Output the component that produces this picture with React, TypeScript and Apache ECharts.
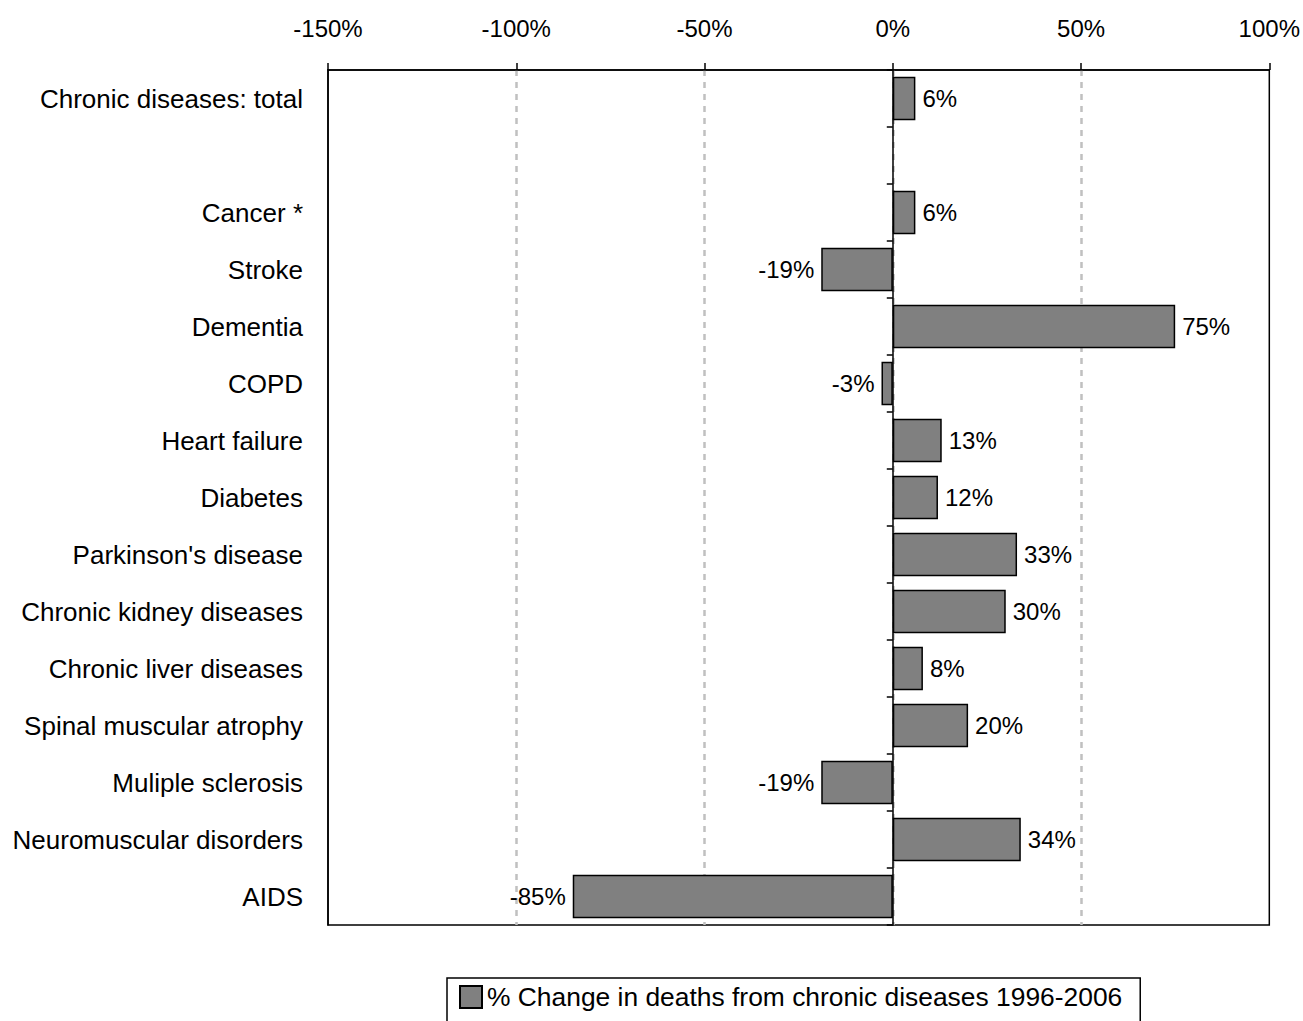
import React, { useEffect, useRef } from "react";
import * as echarts from "echarts";

const categories: string[] = [
  "Chronic diseases: total",
  "",
  "Cancer *",
  "Stroke",
  "Dementia",
  "COPD",
  "Heart failure",
  "Diabetes",
  "Parkinson's disease",
  "Chronic kidney diseases",
  "Chronic liver diseases",
  "Spinal muscular atrophy",
  "Muliple sclerosis",
  "Neuromuscular disorders",
  "AIDS",
];

const changeValues: (number | null)[] = [6, null, 6, -19, 75, -3, 13, 12, 33, 30, 8, 20, -19, 34, -85];

const seriesName = "% Change in deaths from chronic diseases 1996-2006";

const xMin = -150;
const xMax = 100;
const xStep = 50;

const FONT = "'Liberation Sans', Arial, sans-serif";

export default function App() {
  const ref = useRef<HTMLDivElement>(null);

  useEffect(() => {
    if (!ref.current) return;
    const chart = echarts.init(ref.current, null, { renderer: "svg" });

    const data = changeValues.map((v) =>
      v === null
        ? "-"
        : {
            value: v,
            label: {
              position: v < 0 ? "left" : "right",
            },
          }
    );

    chart.setOption({
      animation: false,
      backgroundColor: "#ffffff",
      textStyle: { fontFamily: FONT, color: "#000" },
      grid: {
        left: 328,
        right: 31,
        top: 70,
        bottom: 96,
        show: true,
        borderColor: "#000",
        borderWidth: 1.5,
        containLabel: false,
      },
      legend: {
        show: true,
        left: 447,
        top: 978,
        padding: [6, 18, 24, 12],
        borderColor: "#000",
        borderWidth: 1.5,
        itemWidth: 22,
        itemHeight: 22,
        icon: "rect",
        textStyle: { fontFamily: FONT, fontSize: 26.4, color: "#000" },
        data: [seriesName],
      },
      xAxis: {
        type: "value",
        position: "top",
        min: xMin,
        max: xMax,
        interval: xStep,
        axisLine: { show: true, onZero: false, lineStyle: { color: "#000", width: 1.5 } },
        axisTick: { show: true, length: 7, lineStyle: { color: "#000", width: 1.5 } },
        axisLabel: {
          fontFamily: FONT,
          fontSize: 24,
          color: "#000",
          margin: 30,
          formatter: "{value}%",
        },
        splitLine: {
          show: true,
          showMinLine: false,
          showMaxLine: false,
          lineStyle: { color: "#c0c0c0", width: 2.5, type: [6, 6] },
        },
      },
      yAxis: [
        {
          type: "category",
          data: categories,
          inverse: true,
          position: "left",
          axisLine: { show: true, onZero: false, lineStyle: { color: "#000", width: 1.5 } },
          axisTick: { show: false },
          splitLine: { show: false },
          axisLabel: {
            fontFamily: FONT,
            fontSize: 26,
            color: "#000",
            margin: 25,
          },
        },
        {
          type: "category",
          data: categories,
          inverse: true,
          position: "right",
          axisLine: {
            show: true,
            onZero: true,
            onZeroAxisIndex: 0,
            lineStyle: { color: "#000", width: 1.5 },
          },
          axisTick: { show: true, inside: true, length: 6, lineStyle: { color: "#000", width: 1.5 } },
          axisLabel: { show: false },
          splitLine: { show: false },
        },
      ],
      series: [
        {
          name: seriesName,
          type: "bar",
          yAxisIndex: 0,
          data,
          barCategoryGap: "24%",
          itemStyle: { color: "#808080", borderColor: "#000", borderWidth: 1.5 },
          label: {
            show: true,
            distance: 7,
            fontFamily: FONT,
            fontSize: 24,
            color: "#000",
            formatter: (p: any) => `${Math.round(p.value)}%`,
          },
        },
      ],
    });

    return () => {
      chart.dispose();
    };
  }, []);

  return (
    <div
      ref={ref}
      style={{ position: "fixed", left: 0, top: 0, width: 1303, height: 1021 }}
    />
  );
}
